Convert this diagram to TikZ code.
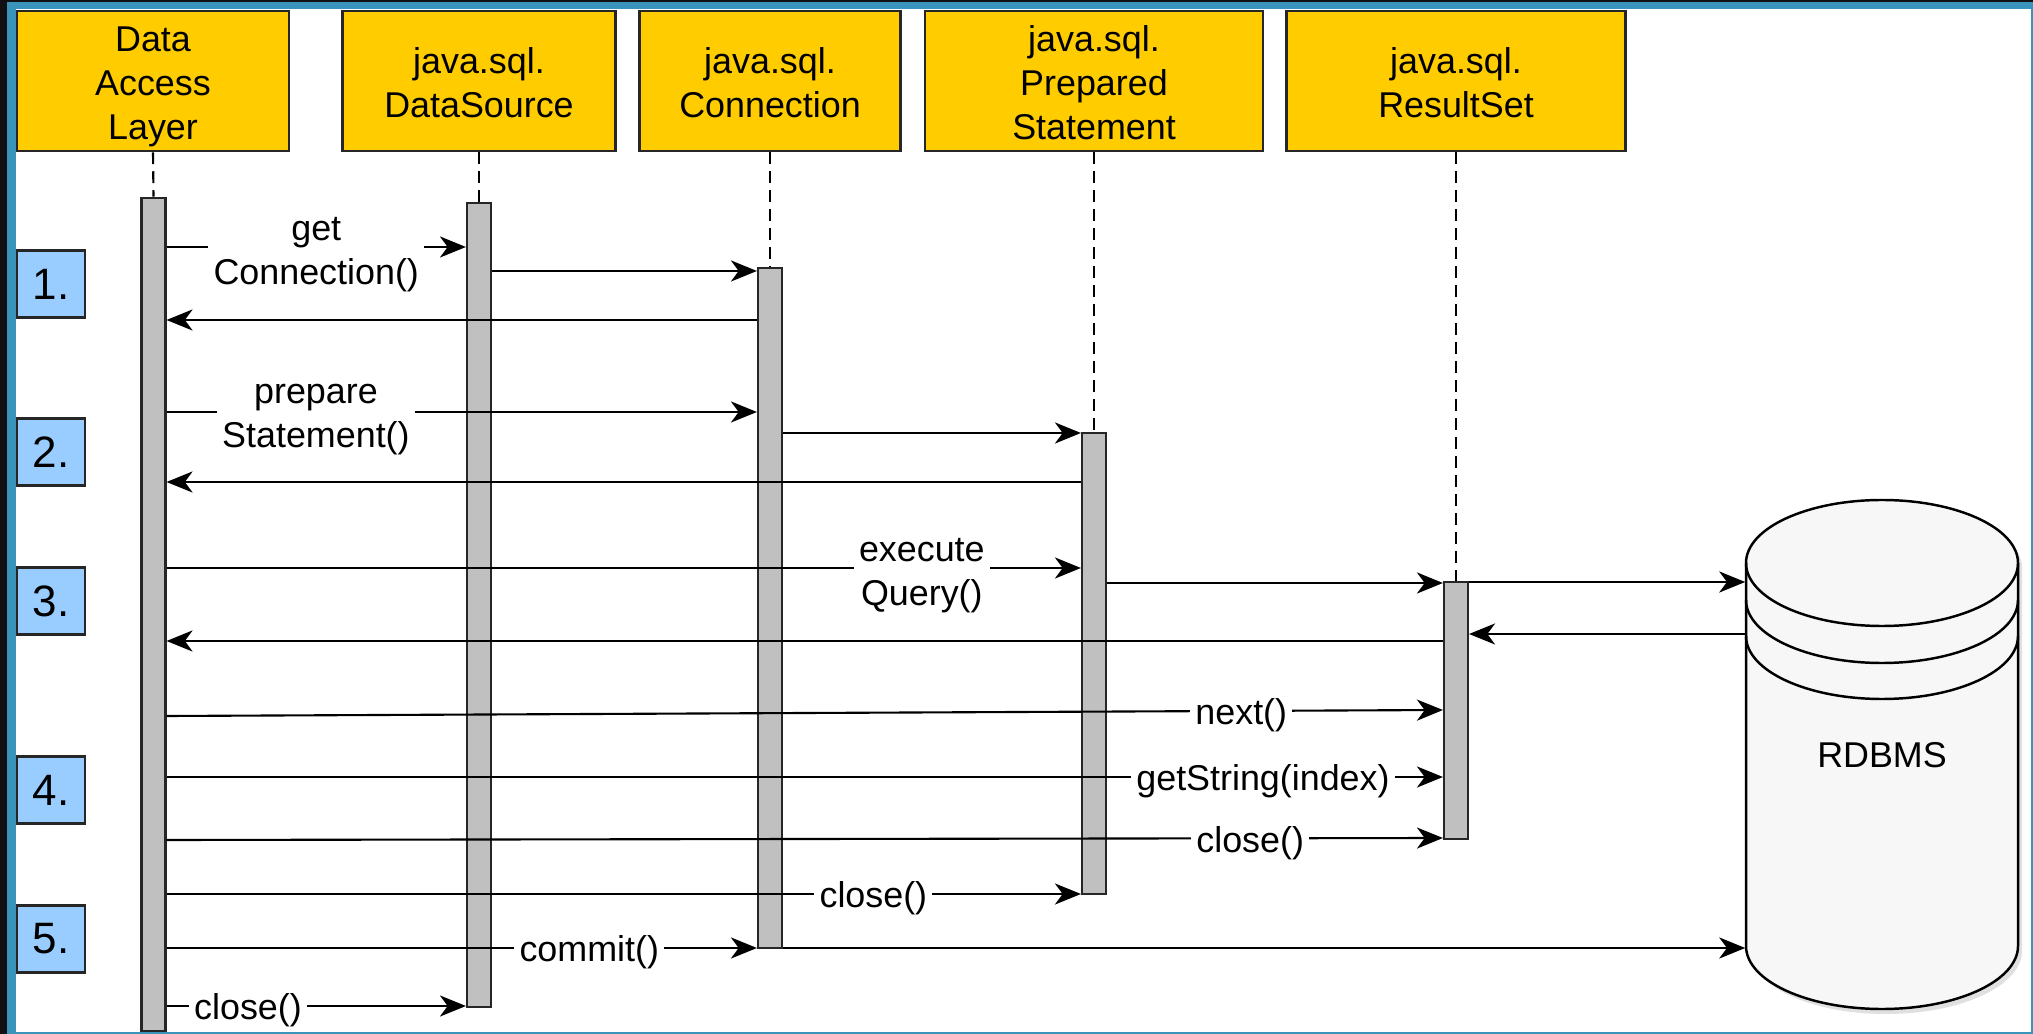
\documentclass[tikz,border=0pt]{standalone}
\usepackage{fontspec}
\setmainfont{Liberation Sans}
\usetikzlibrary{arrows.meta}

\begin{document}
\begin{tikzpicture}[x=0.01cm, y=-0.01cm,
        hdr/.style={draw=black!85, line width=0.7pt, fill=hdryellow, inner sep=0pt, minimum height=1.40cm},
        hdrtxt/.style={align=center, text depth=0pt, yshift=-0.55pt, font=\fontsize{10.2}{12.5}\selectfont},
        actbar/.style={draw=black!85, line width=0.6pt, fill=actgray, inner sep=0pt, minimum width=0.24cm},
        stepbox/.style={draw=black!85, line width=0.6pt, fill=stepblue, inner sep=0pt,
            minimum width=0.68cm, minimum height=0.67cm, font=\fontsize{12.5}{15}\selectfont},
        lifeline/.style={line width=0.6pt, dash pattern=on 3.4pt off 2pt},
        msg/.style={line width=0.6pt, -{Stealth[length=7.4pt, width=6pt, inset=2.2pt]}},
        lbl/.style={fill=white, inner xsep=1.5pt, inner ysep=0pt, align=center, yshift=-1.3pt,
            font=\fontsize{10.2}{12.5}\selectfont}]
        % Define colors
        \definecolor{hdryellow}{RGB}{255,204,0}
        \definecolor{stepblue}{RGB}{153,204,255}
        \definecolor{actgray}{RGB}{192,192,192}
        \definecolor{frameblue}{RGB}{58,147,187}
        \definecolor{framedark}{RGB}{17,17,20}
        \definecolor{dbgray}{RGB}{247,247,247}

        % Frame
        \useasboundingbox (0,0) rectangle (2033,1034);
        \fill[framedark] (0,0) rectangle (2033,1034);
        \fill[frameblue] (7,2) rectangle (2033,1034);
        \fill[white] (16,9) rectangle (2031,1032);

        % Headers - one per participant
        \node[hdr, minimum width=2.72cm, label={[hdrtxt]center:{Data\\Access\\Layer}}] (dal) at (153,81) {};
        \node[hdr, minimum width=2.73cm, label={[hdrtxt]center:{java.sql.\\DataSource}}] (ds) at (479,81) {};
        \node[hdr, minimum width=2.61cm, label={[hdrtxt]center:{java.sql.\\Connection}}] (conn) at (770,81) {};
        \node[hdr, minimum width=3.38cm, label={[hdrtxt]center:{java.sql.\\Prepared\\Statement}}] (ps) at (1094,81) {};
        \node[hdr, minimum width=3.39cm, label={[hdrtxt]center:{java.sql.\\ResultSet}}] (rs) at (1456,81) {};

        % Activation bars
        \node[actbar, minimum height=8.33cm] (aDal) at (153.5,614.5) {};
        \node[actbar, minimum height=8.04cm] (aDs) at (479,605) {};
        \node[actbar, minimum height=6.80cm] (aConn) at (770,608) {};
        \node[actbar, minimum height=4.61cm] (aPs) at (1094,663.5) {};
        \node[actbar, minimum height=2.57cm] (aRs) at (1456,710.5) {};

        % Lifelines
        \draw[lifeline] (dal.south) -- (aDal.north);
        \draw[lifeline] (ds.south) -- (aDs.north);
        \draw[lifeline] (conn.south) -- (aConn.north);
        \draw[lifeline] (ps.south) -- (aPs.north);
        \draw[lifeline] (rs.south) -- (aRs.north);

        % Step numbers
        \node[stepbox] (s1) at (51,284) {1.};
        \node[stepbox] (s2) at (51,452) {2.};
        \node[stepbox] (s3) at (51,601) {3.};
        \node[stepbox] (s4) at (51,790) {4.};
        \node[stepbox] (s5) at (51,939) {5.};

        % RDBMS cylinder (shadow first)
        \begin{scope}[shift={(4,5)}]
            \fill[black, opacity=0.12] (1746,563) -- (1746,946) arc[start angle=180, end angle=0, x radius=136, y radius=63]
                -- (2018,563) arc[start angle=0, end angle=-180, x radius=136, y radius=63] -- cycle;
        \end{scope}
        \filldraw[fill=dbgray, draw=black, line width=0.7pt] (1746,563) -- (1746,946)
            arc[start angle=180, end angle=0, x radius=136, y radius=63]
            -- (2018,563) arc[start angle=0, end angle=-180, x radius=136, y radius=63] -- cycle;
        \draw[line width=0.7pt] (1746,563) arc[start angle=180, end angle=0, x radius=136, y radius=63];
        \draw[line width=0.7pt] (1746,600) arc[start angle=180, end angle=0, x radius=136, y radius=63];
        \draw[line width=0.7pt] (1746,636) arc[start angle=180, end angle=0, x radius=136, y radius=63];
        \node[font=\fontsize{10.2}{12.5}\selectfont, minimum width=2.72cm, minimum height=5.09cm,
            inner sep=0pt] (db) at (1882,755) {RDBMS};

        % 1. get connection
        \draw[msg] (aDal.east |- 0,247) -- node[lbl, pos=0.5, yshift=-0.9pt] {get\\Connection()} (aDs.west |- 0,247);
        \draw[msg] (aDs.east |- 0,271) -- (aConn.west |- 0,271);
        \draw[msg] (aConn.west |- 0,320) -- (aDal.east |- 0,320);

        % 2. prepare statement
        \draw[msg] (aDal.east |- 0,412) -- node[lbl, pos=0.253, yshift=-0.9pt] {prepare\\Statement()} (aConn.west |- 0,412);
        \draw[msg] (aConn.east |- 0,433) -- (aPs.west |- 0,433);
        \draw[msg] (aPs.west |- 0,482) -- (aDal.east |- 0,482);

        % 3. execute query
        \draw[msg] (aDal.east |- 0,568) -- node[lbl, pos=0.826, yshift=-0.9pt] {execute\\Query()} (aPs.west |- 0,568);
        \draw[msg] (aPs.east |- 0,583) -- (aRs.west |- 0,583);
        \draw[msg] (aRs.east |- 0,582) -- (db.west |- 0,582);
        \draw[msg] (db.west |- 0,634) -- (aRs.east |- 0,634);
        \draw[msg] (aRs.west |- 0,641) -- (aDal.east |- 0,641);

        % 4. read the result set
        \draw[msg] (aDal.east |- 0,716) -- node[lbl, pos=0.842] {next()} (aRs.west |- 0,710);
        \draw[msg] (aDal.east |- 0,777) -- node[lbl, pos=0.859] {getString(index)} (aRs.west |- 0,777);
        \draw[msg] (aDal.east |- 0,840) -- node[lbl, pos=0.849] {close()} (aRs.west |- 0,838);
        \draw[msg] (aDal.east |- 0,894) -- node[lbl, pos=0.773] {close()} (aPs.west |- 0,894);

        % 5. commit and close
        \draw[msg] (aDal.east |- 0,948) -- node[lbl, pos=0.716] {commit()} (aConn.west |- 0,948);
        \draw[msg] (aConn.east |- 0,948) -- (db.west |- 0,948);
        \draw[msg] (aDal.east |- 0,1006) -- node[lbl, pos=0.272] {close()} (aDs.west |- 0,1006);
\end{tikzpicture}
\end{document}
